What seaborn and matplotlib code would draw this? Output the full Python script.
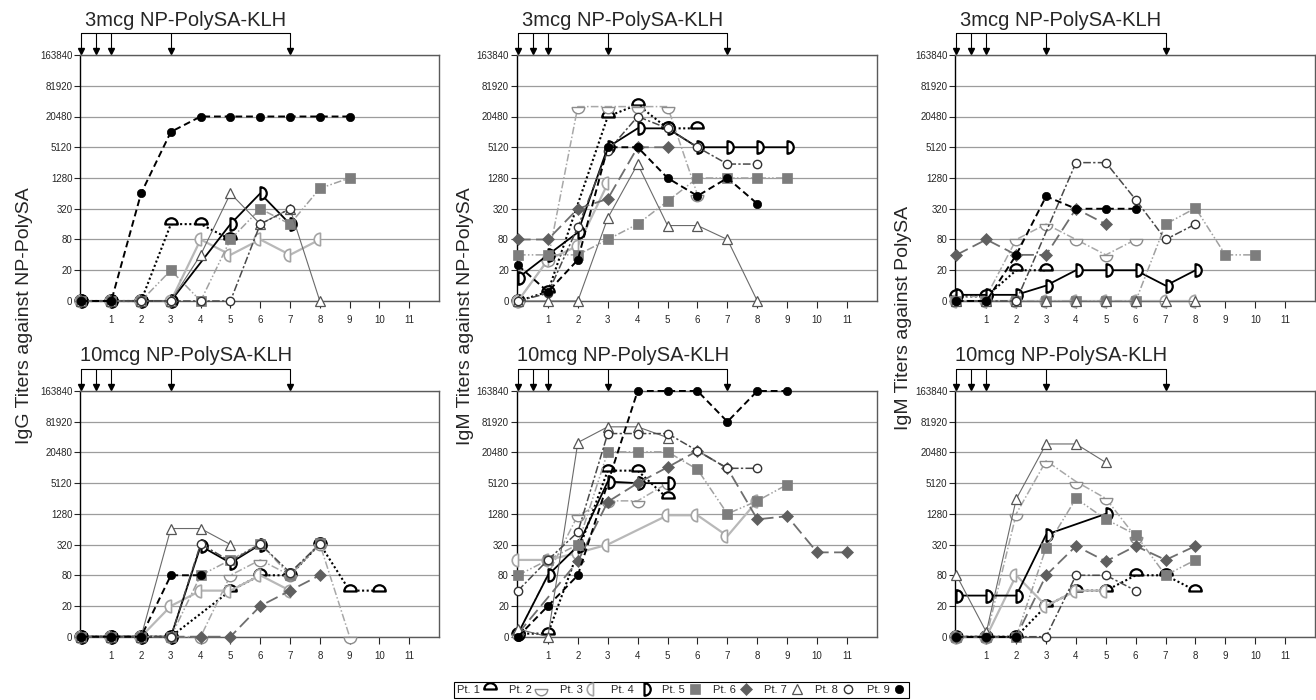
import matplotlib
matplotlib.use("Agg")
import matplotlib.pyplot as plt
from matplotlib.lines import Line2D
from matplotlib.path import Path
from matplotlib.ticker import NullLocator
from matplotlib.transforms import blended_transform_factory
import numpy as np
import pandas as pd
import seaborn as sns

# titer readings per patient, list index = week, None = no sample
igg_np_3mcg = {
    1: [0, 0, 0, 160, 160, 80],
    2: [0, 0, 0, 0],
    3: [0, 0, 0, 0, 80, 40, 80, 40, 80],
    4: [0, 0, 0, 0, None, 160, 640, 160],
    5: [0, 0, 0, 20, 0, 80, 320, 160, 800, 1280],
    6: [0, 0, 0, 0],
    7: [0, 0, 0, 0, 40, 640, 160, 320, 0],
    8: [0, 0, 0, 0, 0, 0, 160, 320],
    9: [0, 0, 640, 10240, 20480, 20480, 20480, 20480, 20480, 20480],
}
igm_np_3mcg = {
    1: [0, 6, None, 20480, 35000, 12000, 12000],
    2: [0, 32, 32000, 32000, 32000, 32000, 600],
    3: [0, 32, 60, 1000],
    4: [15, 40, 110, 5120, 12000, 12000, 5120, 5120, 5120, 5120],
    5: [40, 40, 40, 80, 160, 450, 1280, 1280, 1280, 1280],
    6: [80, 80, 320, 500, 5120, 5120],
    7: [0, 0, 0, 210, 2400, 150, 150, 80, 0],
    8: [0, 5, 140, 4300, 20480, 12000, 5120, 2400, 2400],
    9: [25, 6, 32, 5120, 5120, 1280, 570, 1280, 400],
}
igm_ps_3mcg = {
    1: [3, 3, 20, 20],
    2: [3, 3, 80, 160, 80, 40, 80],
    3: [0, 0, 0, 0, 0, 0, 0, 0, 0],
    4: [4, 4, 4, 10, 20, 20, 20, 10, 20],
    5: [0, 0, 0, 0, 0, 0, 0, 160, 330, 40, 40],
    6: [40, 80, 40, 40, 320, 160],
    7: [0, 0, 0, 0, 0, 0, 0, 0, 0],
    8: [0, 0, 0, None, 2560, 2560, 480, 80, 160],
    9: [0, 0, 40, 560, 320, 320, 320],
}
igg_np_10mcg = {
    1: [0, 0, 0, 0, None, 40, 80, 80, 330, 40, 40],
    2: [0, 0, 0, 0, 0, 80, 160, 80, 330, 0],
    3: [0, 0, 0, 20, 40, 40, 80, 40],
    4: [0, 0, 0, 0, 300, 140, 320],
    5: [0, 0, 0, 0, 80, 160, 330, 80, 340],
    6: [0, 0, 0, 0, 0, 0, 20, 40, 80],
    7: [0, 0, 0, 660, 660, 320],
    8: [0, 0, 0, 0, 330, 150, 330, 90, 330],
    9: [0, 0, 0, 80, 80],
}
igm_np_10mcg = {
    1: [2, 2, None, 9000, 9000, 2560],
    2: [2, None, 1200, 2300, 2300, 5120],
    3: [160, 160, 220, 320, None, 1200, 1200, 470, 2300],
    4: [2, 80, 300, 5500, 5120, 5120],
    5: [80, 160, 320, 21000, 21000, 21000, 9500, 1280, 2300, 4800],
    6: [2, None, 150, 2200, 5120, 10500, 22000, 10000, 1000, 1150, 225, 225],
    7: [5, 0, 32000, 65000, 65000, 40000],
    8: [40, 160, 560, 48000, 48000, 48000, 22000, 10000, 10000],
    9: [0, 20, 80, None, 163840, 163840, 163840, 81920, 163840, 163840],
}
igm_ps_10mcg = {
    1: [0, 0, 0, 20, 40, 40, 80, 80, 40],
    2: [0, 0, 1280, 14000, 5500, 2560, 450],
    3: [0, 0, 80, 20, 40, 40],
    4: [32, 32, 32, 500, None, 1280],
    5: [0, 0, 0, 280, 2560, 1000, 500, 80, 160],
    6: [0, 0, 0, 80, 300, 150, 300, 160, 300],
    7: [80, 3, 2500, 30000, 30000, 13000],
    8: [0, 0, 0, 0, 80, 80, 40],
    9: [0, 0, 0],
}

boost_weeks = [0, 0.5, 1, 3, 7]
ytick_values = [0, 20, 80, 320, 1280, 5120, 20480, 81920, 163840]
ytick_labels = [str(v) for v in ytick_values]
xtick_values = list(range(1, 12))
patients = list(range(1, 10))


def titer_to_level(v):
    # the titer axis: 0-20 linear, then 4-fold per gridline, last step 2-fold
    v = np.asarray(v, dtype=float)
    low = v / 20.0
    mid = 1 + np.log(np.clip(v, 20, 81920) / 20.0) / np.log(4)
    high = 7 + np.log2(np.clip(v, 81920, None) / 81920.0)
    return np.where(v < 20, low, np.where(v <= 81920, mid, high))


def level_to_titer(lv):
    lv = np.asarray(lv, dtype=float)
    low = lv * 20.0
    mid = 20.0 * 4 ** (np.clip(lv, 1, 7) - 1)
    high = 81920.0 * 2 ** (np.clip(lv, 7, 30) - 7)
    return np.where(lv < 1, low, np.where(lv <= 7, mid, high))


panels = [
    ('igg_np_3mcg', igg_np_3mcg, '3mcg NP-PolySA-KLH', 0, 0),
    ('igm_np_3mcg', igm_np_3mcg, '3mcg NP-PolySA-KLH', 0, 1),
    ('igm_ps_3mcg', igm_ps_3mcg, '3mcg NP-PolySA-KLH', 0, 2),
    ('igg_np_10mcg', igg_np_10mcg, '10mcg NP-PolySA-KLH', 1, 0),
    ('igm_np_10mcg', igm_np_10mcg, '10mcg NP-PolySA-KLH', 1, 1),
    ('igm_ps_10mcg', igm_ps_10mcg, '10mcg NP-PolySA-KLH', 1, 2),
]

rows = []
for panel_name, readings, _, _, _ in panels:
    for pt, titers in readings.items():
        for week, t in enumerate(titers):
            if t is not None:
                rows.append((panel_name, pt, week, t))
df = pd.DataFrame(rows, columns=['panel', 'patient', 'week', 'titer'])

# half circle markers
DOME = Path.wedge(0, 180)
BOWL = Path.wedge(180, 360)
LEFT_HALF = Path.wedge(90, 270)
RIGHT_HALF = Path.wedge(-90, 90)

marker_styles = {
    1: dict(marker=DOME, markersize=9, markerfacecolor='white', markeredgecolor='black', markeredgewidth=1.6),
    2: dict(marker=BOWL, markersize=9, markerfacecolor='white', markeredgecolor='#8c8c8c', markeredgewidth=1.0),
    3: dict(marker=LEFT_HALF, markersize=9, markerfacecolor='white', markeredgecolor='#a4a4a4', markeredgewidth=1.2),
    4: dict(marker=RIGHT_HALF, markersize=9, markerfacecolor='white', markeredgecolor='black', markeredgewidth=1.6),
    5: dict(marker='s', markersize=6.5, markerfacecolor='#7d7d7d', markeredgecolor='#7d7d7d', markeredgewidth=0.5),
    6: dict(marker='D', markersize=6, markerfacecolor='#5f5f5f', markeredgecolor='#5f5f5f', markeredgewidth=0.5),
    7: dict(marker='^', markersize=7.5, markerfacecolor='white', markeredgecolor='#555555', markeredgewidth=0.9),
    8: dict(marker='o', markersize=6, markerfacecolor='white', markeredgecolor='#333333', markeredgewidth=1.0),
    9: dict(marker='o', markersize=6, markerfacecolor='black', markeredgecolor='black', markeredgewidth=0.5),
}
line_styles = {
    1: dict(color='black', linestyle=(0, (1, 1.2)), linewidth=1.5),
    2: dict(color='#a8a8a8', linestyle=(0, (5, 1.5, 1, 1.5)), linewidth=1.1),
    3: dict(color='#b8b8b8', linestyle='-', linewidth=1.6),
    4: dict(color='black', linestyle='-', linewidth=1.3),
    5: dict(color='#a0a0a0', linestyle=(0, (5, 1.5, 1, 1.5, 1, 1.5)), linewidth=1.1),
    6: dict(color='#6e6e6e', linestyle=(0, (7, 3)), linewidth=1.3),
    7: dict(color='#6a6a6a', linestyle='-', linewidth=0.8),
    8: dict(color='#4a4a4a', linestyle=(0, (5, 1.5, 1.5, 1.5)), linewidth=1.1),
    9: dict(color='black', linestyle=(0, (3.5, 2)), linewidth=1.4),
}

sns.set_style('ticks')
plt.rcParams['font.family'] = ['Liberation Sans', 'DejaVu Sans']

W, H = 1316, 700
fig = plt.figure(figsize=(W / 100, H / 100), dpi=100)

col_left = [80, 516.5, 955]
col_width = [359, 360.5, 360]
row_top = [55, 391]
row_height = [246, 245.7]

for panel_name, readings, title, r, c in panels:
    ax = fig.add_axes([col_left[c] / W, 1 - (row_top[r] + row_height[r]) / H,
                       col_width[c] / W, row_height[r] / H])
    ax.set_yscale('function', functions=(titer_to_level, level_to_titer))
    sub = df[df['panel'] == panel_name]
    for pt in patients:
        d = sub[sub['patient'] == pt]
        if len(d) == 0:
            continue
        sns.lineplot(data=d, x='week', y='titer', ax=ax, estimator=None, errorbar=None,
                     legend=False, clip_on=False, zorder=3 + pt * 0.1,
                     **line_styles[pt], **marker_styles[pt])

    ax.set_xlim(-0.05, 12)
    ax.set_ylim(0, 163840)
    ax.set_yticks(ytick_values)
    ax.set_yticklabels(ytick_labels)
    ax.yaxis.set_minor_locator(NullLocator())
    ax.set_xticks(xtick_values)
    ax.set_xticklabels([str(v) for v in xtick_values])
    ax.tick_params(axis='y', labelsize=7, length=4, width=0.8, pad=1.5, direction='out')
    ax.tick_params(axis='x', labelsize=7, length=5, width=0.8, pad=5, direction='out')
    ax.set_xlabel('')
    ax.set_ylabel('')
    ax.yaxis.grid(True, color='#9c9c9c', linewidth=0.9)
    ax.xaxis.grid(False)
    ax.set_axisbelow(True)
    for side in ['top', 'right', 'bottom']:
        ax.spines[side].set_color('#5a5a5a')
        ax.spines[side].set_linewidth(1.0)
    ax.spines['left'].set_color('black')
    ax.spines['left'].set_linewidth(1.0)

    # immunisation schedule above the panel
    trans = blended_transform_factory(ax.transData, ax.transAxes)
    bracket_y = 1 + 22 / row_height[r]
    ax.plot([boost_weeks[0], boost_weeks[-1]], [bracket_y, bracket_y], color='black',
            linewidth=0.8, transform=trans, clip_on=False)
    for wk in boost_weeks:
        ax.plot([wk, wk], [bracket_y, 1.02], color='black', linewidth=0.8,
                transform=trans, clip_on=False)
        ax.plot([wk], [1 + 4.5 / row_height[r]], marker='v', markersize=4.2, color='black',
                transform=trans, clip_on=False)
    ax.text((boost_weeks[0] + boost_weeks[-1]) / 2, 1 + 35 / row_height[r], title,
            transform=trans, ha='center', va='center', fontsize=14.5)

ylabels = ['IgG Titers against NP-PolySA', 'IgM Titers against NP-PolySA', 'IgM Titers against PolySA']
ylabel_x = [25, 465, 903]
ylabel_y = [316, 316, 318]
for txt, lx, ly in zip(ylabels, ylabel_x, ylabel_y):
    fig.text(lx / W, 1 - ly / H, txt, rotation=90, ha='center', va='center', fontsize=14)

handles = [Line2D([], [], linestyle='none', **marker_styles[pt]) for pt in patients]
labels = [f'Pt. {pt}' for pt in patients]
leg = fig.legend(handles, labels, loc='center', bbox_to_anchor=(0.518, 1 - 690 / H), ncol=9,
                 markerfirst=False, frameon=True, fancybox=False, edgecolor='black', framealpha=1,
                 fontsize=8, handlelength=1.2, handletextpad=0.3, columnspacing=1.05,
                 borderpad=0.3, borderaxespad=0)
leg.get_frame().set_linewidth(0.8)

fig.savefig('out.png', dpi=100)
